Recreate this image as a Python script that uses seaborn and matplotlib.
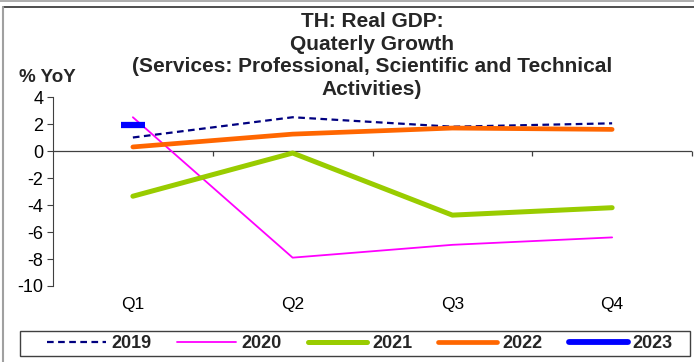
import matplotlib
matplotlib.use("Agg")
import matplotlib.pyplot as plt
from matplotlib.lines import Line2D
from matplotlib.patches import Rectangle
import seaborn as sns
import pandas as pd

quarters = ["Q1", "Q2", "Q3", "Q4"]
years = ["2019", "2020", "2021", "2022", "2023"]
v2019 = [1.0, 2.5, 1.8, 2.05]
v2020 = [2.5, -7.9, -6.95, -6.4]
v2021 = [-3.35, -0.15, -4.75, -4.2]
v2022 = [0.3, 1.25, 1.7, 1.6]
v2023 = [1.9]
yticks = [4, 2, 0, -2, -4, -6, -8, -10]

sns.set_theme(style="white")
plt.rcParams["font.family"] = ["Liberation Sans", "DejaVu Sans"]

fig = plt.figure(figsize=(6.94, 3.62), dpi=100)
ax = fig.add_axes([53/694, 1-286/362, (692-53)/694, (286-97)/362])

styles = {
    "2019": dict(color="#000080", lw=1.6, ls=(0, (3, 2))),
    "2020": dict(color="#FF00FF", lw=1.3, ls="-"),
    "2021": dict(color="#99CC00", lw=3.6, ls="-"),
    "2022": dict(color="#FF6600", lw=3.4, ls="-"),
    "2023": dict(color="#0000FF", lw=4.2, ls="-"),
}
series = {"2019": v2019, "2020": v2020, "2021": v2021, "2022": v2022}
pos = {q: i for i, q in enumerate(quarters)}

for yr, vals in series.items():
    df = pd.DataFrame({"x": [pos[q] for q in quarters[:len(vals)]], "y": vals})
    st = styles[yr]
    sns.lineplot(data=df, x="x", y="y", ax=ax, color=st["color"], linewidth=st["lw"],
                 linestyle=st["ls"], legend=False)
df23 = pd.DataFrame({"x": [pos[q] for q in quarters[:len(v2023)]], "y": v2023})
sns.lineplot(data=df23, x="x", y="y", ax=ax, color="#0000FF", marker="_",
             markersize=17, markeredgewidth=4.5, markeredgecolor="#0000FF",
             linewidth=0, legend=False)

ax.set_xlim(-0.5, 3.5)
ax.set_ylim(-10, 4)
ax.set_yticks(yticks)
ax.set_yticklabels([str(t) for t in yticks], fontsize=13, color="black")
ax.set_xticks(range(len(quarters)))
ax.set_xticklabels(quarters, fontsize=12.5, color="black")
ax.tick_params(axis="x", length=0, pad=8)
ax.tick_params(axis="y", length=4, width=0.8, color="#404040", direction="out", pad=3, left=True)
ax.set_xlabel("")
ax.set_ylabel("")
for s in ["top", "right", "bottom"]:
    ax.spines[s].set_visible(False)
ax.spines["left"].set_color("#404040")
ax.spines["left"].set_linewidth(0.8)
ax.axhline(0, color="#404040", lw=0.9, zorder=1)
ax.vlines([i + 0.5 for i in range(len(quarters))], -0.35, 0, color="#404040", lw=0.9, zorder=1, clip_on=False)

fig.text(0.536, 1-12/362, "TH: Real GDP:\nQuaterly Growth\n(Services: Professional, Scientific and Technical\nActivities)",
         ha="center", va="top", fontsize=15, fontweight="bold", linespacing=1.25)
fig.text(19/694, 1-77/362, "% YoY", ha="left", va="center", fontsize=13.5, fontweight="bold")

fig.add_artist(Rectangle((20/694, 1-356/362), (690-20)/694, 25/362, transform=fig.transFigure,
                         facecolor="white", edgecolor="#404040", lw=1.0, zorder=0))
handles = [Line2D([], [], color=styles[y]["color"], lw=styles[y]["lw"], ls=styles[y]["ls"],
                  solid_capstyle="round") for y in years]
leg = fig.legend(handles, years, loc="center left", bbox_to_anchor=(47/694, 1-343.5/362), ncol=5,
                 frameon=False, handlelength=3.27, handletextpad=0.28, columnspacing=1.45,
                 borderpad=0, borderaxespad=0, prop={"weight": "bold", "size": 13})

fig.add_artist(Line2D([0, 1], [1-1/362, 1-1/362], color="#a0a0a0", lw=1.2, transform=fig.transFigure))
fig.add_artist(Line2D([3/694, 1], [1-7/362, 1-7/362], color="#303030", lw=1.2, transform=fig.transFigure))
fig.add_artist(Line2D([3/694, 3/694], [0, 1-7/362], color="#a0a0a0", lw=1.5, transform=fig.transFigure))

fig.savefig("out.png", dpi=100)
